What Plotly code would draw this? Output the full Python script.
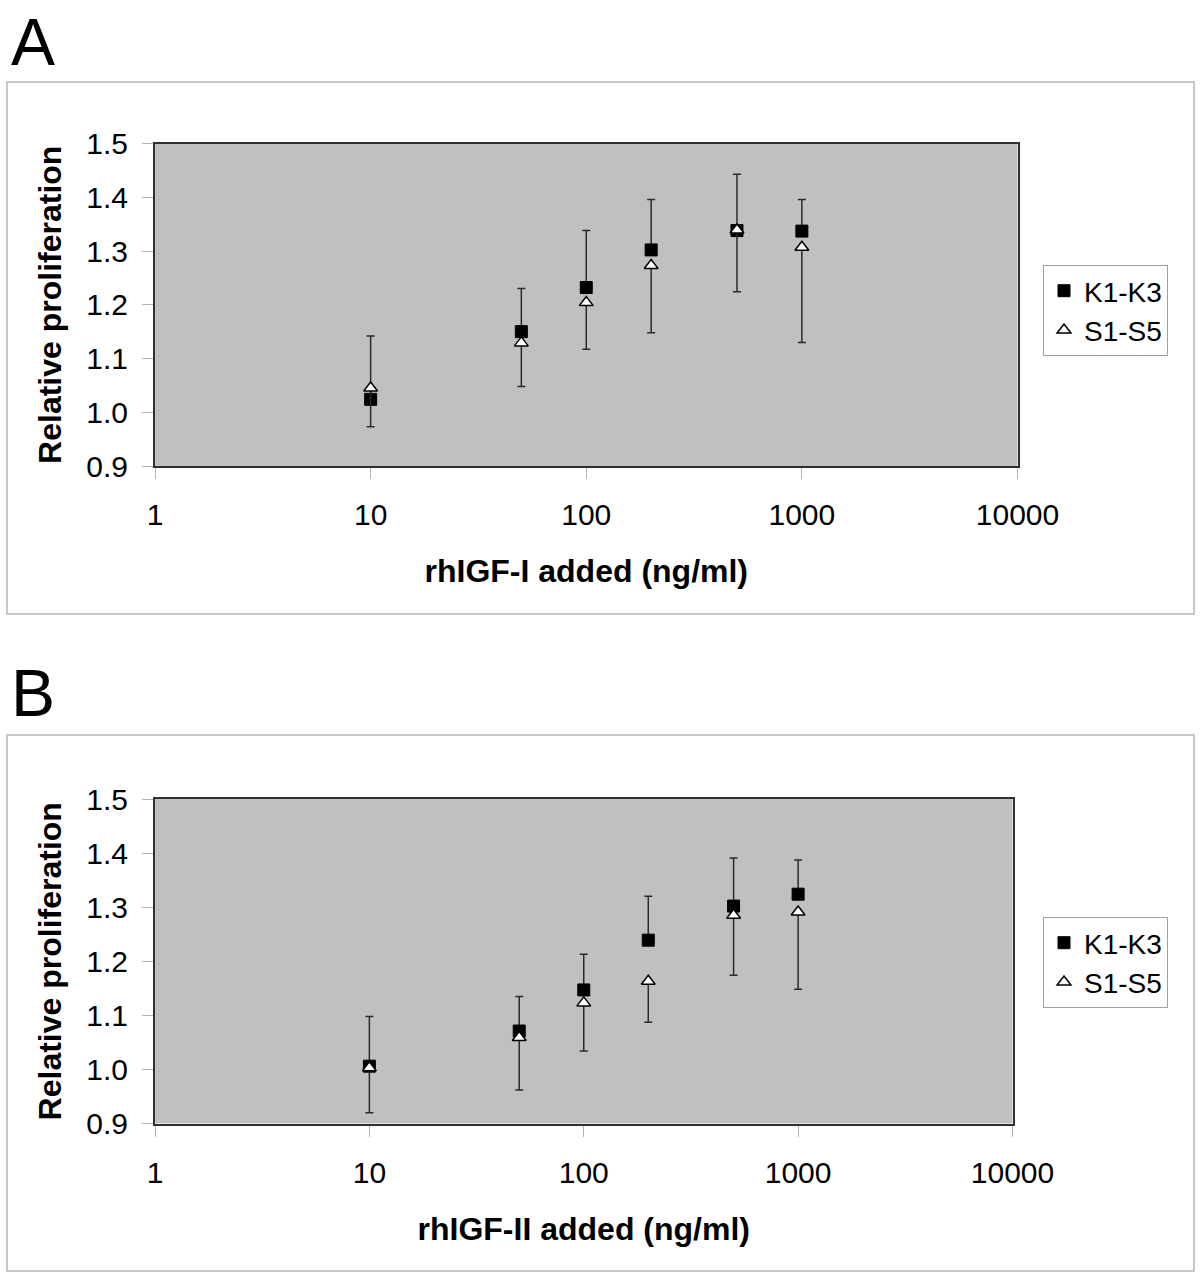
import plotly.graph_objects as go

# ---------------- data ----------------
dose = [10, 50, 100, 200, 500, 1000]
x_ticks = [1, 10, 100, 1000, 10000]
x_tick_text = ["1", "10", "100", "1000", "10000"]
y_ticks = [0.9, 1.0, 1.1, 1.2, 1.3, 1.4, 1.5]

# Panel A (rhIGF-I)
A_K_mean = [1.024, 1.150, 1.232, 1.302, 1.338, 1.337]
A_S_mean = [1.045, 1.129, 1.204, 1.273, 1.339, 1.307]
A_K_upper = [1.142, 1.230, 1.338, 1.396, 1.443, 1.396]   # top of error bar
A_S_lower = [0.973, 1.048, 1.117, 1.148, 1.224, 1.130]   # bottom of error bar

# Panel B (rhIGF-II)
B_K_mean = [1.006, 1.071, 1.147, 1.239, 1.302, 1.324]
B_S_mean = [1.003, 1.059, 1.123, 1.163, 1.285, 1.291]
B_K_upper = [1.098, 1.135, 1.213, 1.320, 1.391, 1.387]
B_S_lower = [0.920, 0.962, 1.034, 1.087, 1.174, 1.148]

series_names = ["K1-K3", "S1-S5"]
panel_labels = ["A", "B"]
x_titles = ["rhIGF-I added (ng/ml)", "rhIGF-II added (ng/ml)"]
y_title = "Relative proliferation"

# ---------------- layout helpers ----------------
W, H = 1200, 1273
FONT = "Liberation Sans, Arial, sans-serif"

def px(x):
    return x / W

def py(y):
    return 1 - y / H

fig = go.Figure()

panels = [
    dict(K=A_K_mean, S=A_S_mean, Ku=A_K_upper, Sl=A_S_lower,
         xa="x", ya="y", legend="legend"),
    dict(K=B_K_mean, S=B_S_mean, Ku=B_K_upper, Sl=B_S_lower,
         xa="x2", ya="y2", legend="legend2"),
]

for p in panels:
    k_plus = [u - m for u, m in zip(p["Ku"], p["K"])]
    s_minus = [m - l for l, m in zip(p["Sl"], p["S"])]
    zeros = [0] * len(dose)
    fig.add_trace(go.Scatter(
        x=dose, y=p["K"], mode="markers", name=series_names[0],
        xaxis=p["xa"], yaxis=p["ya"], legend=p["legend"],
        marker=dict(symbol="square", size=12, color="black",
                    line=dict(color="black", width=1)),
        error_y=dict(type="data", symmetric=False, array=k_plus,
                     arrayminus=zeros, color="#2a2a2a", thickness=1.5, width=4),
    ))
    fig.add_trace(go.Scatter(
        x=dose, y=p["S"], mode="markers", name=series_names[1],
        xaxis=p["xa"], yaxis=p["ya"], legend=p["legend"],
        marker=dict(symbol="triangle-up", size=12, color="white",
                    line=dict(color="black", width=1.5)),
        error_y=dict(type="data", symmetric=False, array=zeros,
                     arrayminus=s_minus, color="#2a2a2a", thickness=1.5, width=4),
    ))

axis_common_x = dict(
    type="log", range=[0, 4], tickvals=x_ticks, ticktext=x_tick_text,
    ticks="outside", ticklen=11, tickcolor="#b4b4b4", tickwidth=1,
    showgrid=False, zeroline=False, showline=True, linecolor="#303030",
    linewidth=2, mirror=True, automargin=False,
    tickfont=dict(family=FONT, size=30, color="black"),
    ticklabelstandoff=10,
)
axis_common_y = dict(
    range=[0.9, 1.5], tickvals=y_ticks, tickformat=".1f",
    ticks="outside", ticklen=11, tickcolor="#b4b4b4", tickwidth=1,
    showgrid=False, zeroline=False, showline=True, linecolor="#303030",
    linewidth=2, mirror=True, automargin=False,
    tickfont=dict(family=FONT, size=30, color="black"),
    ticklabelstandoff=8,
)
title_font = dict(family=FONT, size=32, color="black", weight="bold")

fig.update_layout(
    width=W, height=H,
    margin=dict(l=0, r=0, t=0, b=0),
    paper_bgcolor="white",
    plot_bgcolor="#c0c0c0",
    showlegend=True,
    xaxis=dict(axis_common_x, domain=[px(155), px(1017.5)], anchor="y",
               title=dict(text=x_titles[0], font=title_font, standoff=30)),
    yaxis=dict(axis_common_y, domain=[py(466), py(143.5)], anchor="x",
               title=dict(text=y_title, font=title_font, standoff=15)),
    xaxis2=dict(axis_common_x, domain=[px(155), px(1012.5)], anchor="y2",
                title=dict(text=x_titles[1], font=title_font, standoff=30)),
    yaxis2=dict(axis_common_y, domain=[py(1123.5), py(799)], anchor="x2",
                title=dict(text=y_title, font=title_font, standoff=15)),
    legend=dict(x=px(1043), y=py(265), xanchor="left", yanchor="top",
                bgcolor="white", bordercolor="#a0a0a0", borderwidth=1,
                font=dict(family=FONT, size=28, color="black"),
                tracegroupgap=0),
    legend2=dict(x=px(1043), y=py(917), xanchor="left", yanchor="top",
                 bgcolor="white", bordercolor="#a0a0a0", borderwidth=1,
                 font=dict(family=FONT, size=28, color="black"),
                 tracegroupgap=0),
    shapes=[
        dict(type="rect", xref="paper", yref="paper",
             x0=px(7), x1=px(1194), y0=py(614), y1=py(82),
             line=dict(color="#c8c8c8", width=2), layer="below"),
        dict(type="rect", xref="paper", yref="paper",
             x0=px(7), x1=px(1194), y0=py(1271), y1=py(735),
             line=dict(color="#c8c8c8", width=2), layer="below"),
    ],
    annotations=[
        dict(text=panel_labels[0], xref="paper", yref="paper",
             x=px(9), y=py(42.5), xanchor="left", yanchor="middle",
             showarrow=False, font=dict(family=FONT, size=66, color="black")),
        dict(text=panel_labels[1], xref="paper", yref="paper",
             x=px(9), y=py(692.5), xanchor="left", yanchor="middle",
             showarrow=False, font=dict(family=FONT, size=66, color="black")),
    ],
)

fig.write_html(
    "out.html",
    config={"displayModeBar": False},
    post_script="document.body.style.margin='0';document.body.style.padding='0';"
                "document.documentElement.style.overflow='hidden';",
)
